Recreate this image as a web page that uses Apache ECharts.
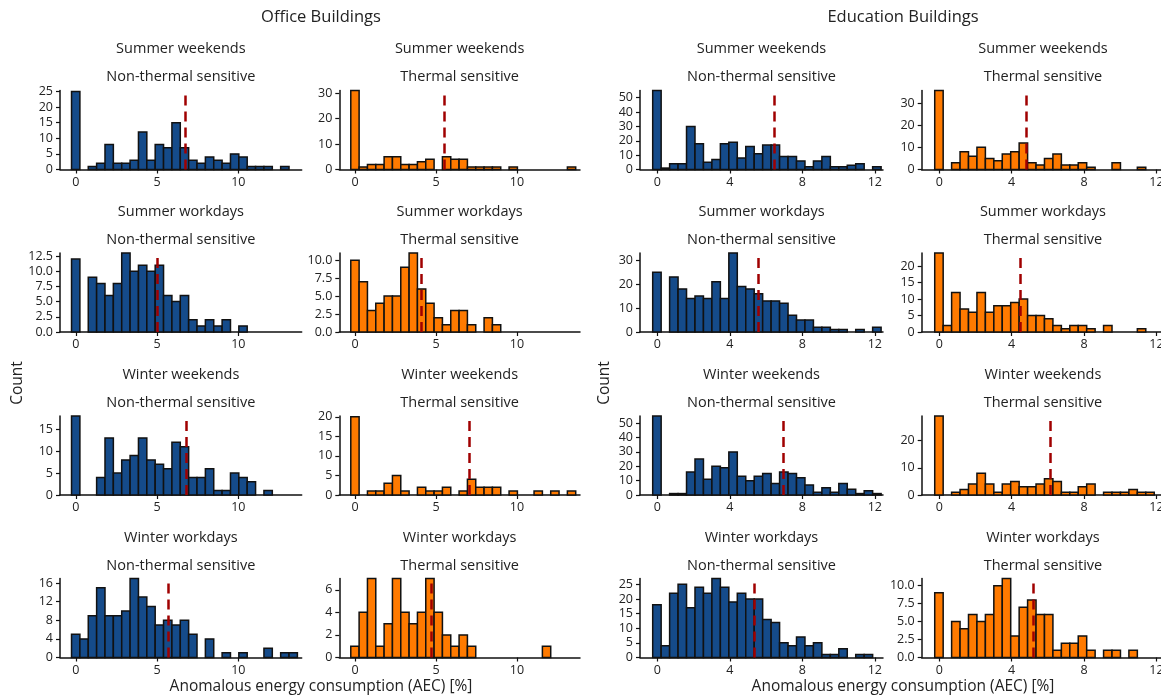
<!DOCTYPE html>
<html>
<head>
    <meta charset="utf-8">
    <script src="https://cdn.jsdelivr.net/npm/echarts@6/dist/echarts.min.js"></script>
    <style>
        html, body { margin: 0; padding: 0; background: #fff; }
    </style>
</head>
<body>
<div id="myChart" style="width: 1161px; height: 698px;"></div>

<script type="text/javascript">
    // histogram bins (left edge of first bin, bin width)
    var officeBinStart = -0.27, officeBinWidth = 0.515;
    var eduBinStart = -0.25, eduBinWidth = 0.4665;

    var seasons = ['Summer weekends', 'Summer workdays', 'Winter weekends', 'Winter workdays'];
    var groups = ['Non-thermal sensitive', 'Thermal sensitive', 'Non-thermal sensitive', 'Thermal sensitive'];
    var buildings = ['Office Buildings', 'Education Buildings'];

    // counts per bin, office
    var officeSumWeNts = [25, 0, 1, 2, 8, 2, 2, 3, 12, 3, 8, 7, 15, 7, 3, 2, 4, 3, 2, 5, 4, 1, 1, 1, 0, 1];
    var officeSumWeTs = [31, 1, 2, 2, 5, 5, 2, 2, 3, 4, 0, 5, 4, 4, 1, 1, 1, 1, 0, 1, 0, 0, 0, 0, 0, 0, 1];
    var officeSumWdNts = [12, 0, 9, 8, 6, 8, 13, 10, 11, 10, 11, 6, 5, 6, 2, 1, 2, 1, 2, 0, 1];
    var officeSumWdTs = [10, 7, 3, 4, 5, 5, 9, 11, 6, 4, 2, 1, 3, 3, 1, 0, 2, 1];
    var officeWinWeNts = [18, 0, 0, 4, 13, 5, 8, 9, 13, 8, 7, 6, 12, 11, 4, 4, 6, 1, 1, 5, 4, 3, 0, 1];
    var officeWinWeTs = [20, 0, 1, 1, 3, 5, 1, 0, 2, 1, 1, 2, 0, 1, 4, 2, 2, 2, 0, 1, 0, 0, 1, 0, 1, 0, 1];
    var officeWinWdNts = [5, 4, 9, 15, 9, 9, 10, 17, 13, 11, 7, 8, 7, 8, 5, 0, 4, 0, 1, 0, 1, 0, 0, 2, 0, 1, 1];
    var officeWinWdTs = [1, 4, 7, 1, 3, 7, 4, 3, 4, 7, 4, 2, 1, 2, 1, 0, 0, 0, 0, 0, 0, 0, 0, 1];

    // counts per bin, education
    var eduSumWeNts = [55, 1, 4, 4, 30, 18, 5, 7, 18, 19, 8, 16, 11, 17, 17, 9, 9, 6, 2, 6, 9, 2, 2, 3, 4, 0, 2];
    var eduSumWeTs = [36, 0, 3, 8, 6, 10, 5, 4, 7, 8, 12, 3, 2, 5, 7, 2, 2, 3, 1, 0, 0, 3, 0, 0, 1];
    var eduSumWdNts = [25, 0, 23, 18, 14, 15, 14, 21, 14, 33, 19, 18, 16, 13, 13, 12, 7, 5, 5, 2, 2, 1, 1, 0, 1, 0, 2];
    var eduSumWdTs = [24, 2, 12, 7, 6, 12, 6, 8, 8, 9, 10, 5, 5, 4, 2, 1, 2, 2, 1, 0, 2, 0, 0, 0, 1];
    var eduWinWeNts = [55, 0, 1, 1, 16, 25, 11, 20, 19, 30, 13, 10, 13, 15, 8, 16, 15, 12, 7, 2, 5, 2, 8, 4, 1, 3, 1];
    var eduWinWeTs = [29, 0, 1, 2, 4, 8, 4, 1, 4, 5, 3, 3, 4, 6, 5, 1, 1, 3, 4, 0, 1, 1, 1, 2, 1, 1];
    var eduWinWdNts = [18, 4, 22, 25, 17, 24, 22, 27, 24, 19, 22, 20, 20, 13, 12, 5, 4, 7, 4, 5, 1, 1, 3, 0, 1, 1];
    var eduWinWdTs = [9, 0, 5, 4, 6, 5, 6, 10, 11, 3, 7, 8, 6, 6, 1, 2, 2, 3, 1, 0, 1, 1, 0, 1];

    // panels row by row: office NTS, office TS, edu NTS, edu TS
    var panelCounts = [
        officeSumWeNts, officeSumWeTs, eduSumWeNts, eduSumWeTs,
        officeSumWdNts, officeSumWdTs, eduSumWdNts, eduSumWdTs,
        officeWinWeNts, officeWinWeTs, eduWinWeNts, eduWinWeTs,
        officeWinWdNts, officeWinWdTs, eduWinWdNts, eduWinWdTs
    ];
    // mean AEC (dashed line)
    var meanValues = [6.73, 5.5, 6.47, 4.83, 5.0, 4.06, 5.57, 4.5, 6.82, 7.05, 6.93, 6.14, 5.71, 4.68, 5.37, 5.2];
    var yMax = [25.3, 31, 55, 35.7, 13, 11, 33, 24, 18, 20.2, 55, 29, 17, 7, 27, 11];
    var yStep = [5, 10, 10, 10, 2.5, 2.5, 10, 5, 5, 5, 10, 10, 4, 2, 5, 2.5];
    var officeXTicks = [0, 5, 10];
    var eduXTicks = [0, 4, 8, 12];

    var blue = '#154b8a';
    var orange = '#ff7a00';
    var font = '"Open Sans", "DejaVu Sans", sans-serif';
    var textColor = '#222';

    // layout (px)
    var colLeft = [60, 339.3, 640, 921.7];
    var colWidth = [241.7, 240.7, 243, 242.5];
    var colXMin = [-0.98, -0.98, -0.95, -0.97];
    var colXMax = [13.9, 13.9, 12.45, 12.43];
    var rowTop = [90.5, 253, 416, 578.5];
    var rowHeight = 79;

    var chart = echarts.init(document.getElementById('myChart'));

    var grids = [], xAxes = [], yAxes = [], series = [], graphics = [];

    panelCounts.forEach(function (counts, p) {
        var row = Math.floor(p / 4), col = p % 4;
        var isOffice = col < 2;
        var start = isOffice ? officeBinStart : eduBinStart;
        var width = isOffice ? officeBinWidth : eduBinWidth;
        var data = [];
        counts.forEach(function (c, i) {
            if (c > 0) {
                data.push([start + i * width, start + (i + 1) * width, Math.min(c, yMax[p])]);
            }
        });
        var yTicks = [];
        for (var v = 0; v <= yMax[p] + 1e-9; v += yStep[p]) {
            yTicks.push(Math.round(v * 10) / 10);
        }
        var decimals = yStep[p] % 1 !== 0 ? 1 : 0;
        var fill = col % 2 === 0 ? blue : orange;

        grids.push({
            left: colLeft[col],
            top: rowTop[row],
            width: colWidth[col],
            height: rowHeight,
            outerBoundsMode: 'none',
            containLabel: false,
        });
        xAxes.push({
            type: 'value',
            gridIndex: p,
            min: colXMin[col],
            max: colXMax[col],
            splitLine: {show: false},
            axisLine: {onZero: false, lineStyle: {color: '#111', width: 1.5}},
            axisTick: {show: true, length: 4, customValues: isOffice ? officeXTicks : eduXTicks, lineStyle: {color: '#111', width: 1.2}},
            axisLabel: {
                customValues: isOffice ? officeXTicks : eduXTicks,
                color: textColor, fontFamily: font, fontSize: 12.5, margin: 6,
            },
        });
        yAxes.push({
            type: 'value',
            gridIndex: p,
            min: 0,
            max: yMax[p],
            splitLine: {show: false},
            axisLine: {show: true, onZero: false, lineStyle: {color: '#111', width: 1.5}},
            axisTick: {show: true, length: 4, customValues: yTicks, lineStyle: {color: '#111', width: 1.2}},
            axisLabel: {
                customValues: yTicks,
                color: textColor, fontFamily: font, fontSize: 12.5, margin: 7,
                formatter: function (val) { return Number(val).toFixed(decimals); },
            },
        });
        series.push({
            type: 'custom',
            xAxisIndex: p,
            yAxisIndex: p,
            encode: {x: [0, 1], y: 2},
            data: data,
            renderItem: function (params, api) {
                var p0 = api.coord([api.value(0), api.value(2)]);
                var p1 = api.coord([api.value(1), 0]);
                return {
                    type: 'rect',
                    shape: {x: p0[0], y: p0[1], width: p1[0] - p0[0], height: p1[1] - p0[1]},
                    style: {fill: fill, stroke: '#111', lineWidth: 1.5},
                };
            },
            markLine: {
                silent: true,
                symbol: ['none', 'none'],
                label: {show: false},
                lineStyle: {color: '#a00000', width: 2.5, type: [10, 6]},
                data: [{xAxis: meanValues[p]}],
                animation: false,
            },
            animation: false,
        });

        var cx = colLeft[col] + colWidth[col] / 2;
        graphics.push({
            type: 'text', x: cx, y: 49 + 163 * row,
            style: {text: seasons[row], font: '14.5px ' + font, fill: textColor, align: 'center', verticalAlign: 'middle'},
        });
        graphics.push({
            type: 'text', x: cx, y: 77 + 163 * row,
            style: {text: groups[col], font: '14.5px ' + font, fill: textColor, align: 'center', verticalAlign: 'middle'},
        });
    });

    [321, 903].forEach(function (cx, b) {
        graphics.push({
            type: 'text', x: cx, y: 17,
            style: {text: buildings[b], font: '16.5px ' + font, fill: textColor, align: 'center', verticalAlign: 'middle'},
        });
        graphics.push({
            type: 'text', x: cx, y: 687,
            style: {text: 'Anomalous energy consumption (AEC) [%]', font: '15.5px ' + font, fill: textColor, align: 'center', verticalAlign: 'middle'},
        });
    });
    [18, 605].forEach(function (x) {
        graphics.push({
            type: 'text', x: x, y: 383, rotation: Math.PI / 2,
            style: {text: 'Count', font: '15.5px ' + font, fill: textColor, align: 'center', verticalAlign: 'middle'},
        });
    });

    var option = {
        backgroundColor: '#fff',
        animation: false,
        grid: grids,
        xAxis: xAxes,
        yAxis: yAxes,
        series: series,
        graphic: graphics,
    };

    chart.setOption(option, true);
</script>
</body>
</html>
